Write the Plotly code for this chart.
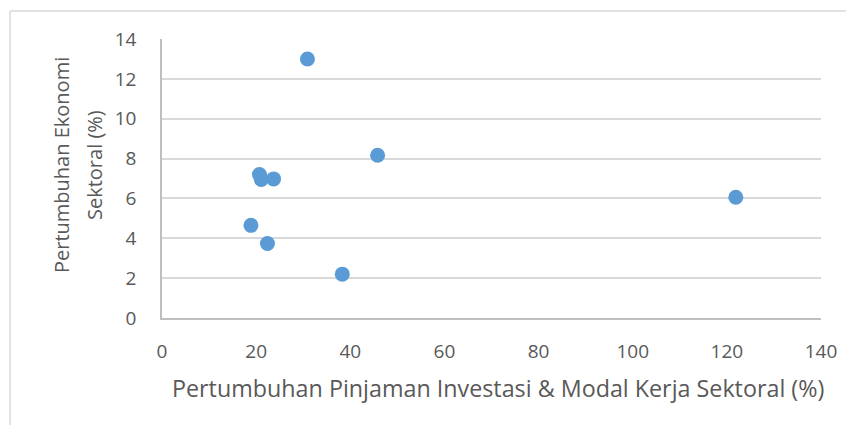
import plotly.graph_objects as go

x_vals = [30.9, 45.8, 20.7, 21.1, 23.7, 18.9, 22.4, 38.3, 121.9]
y_vals = [13.0, 8.17, 7.2, 6.95, 6.98, 4.65, 3.74, 2.2, 6.06]

x_title = "Pertumbuhan Pinjaman Investasi & Modal Kerja Sektoral (%)"
y_title_lines = ["Pertumbuhan Ekonomi", "Sektoral (%)"]

# page body has an 8px margin, so the figure is sized to fit the window
W, H = 846, 417
ml, mr, mt, mb = 154, 33, 31, 107
PW, PH = W - ml - mr, H - mt - mb

def px(xp):
    return (xp - ml) / PW

def py(yp):
    return (H - mb - yp) / PH

fig = go.Figure(go.Scatter(
    x=x_vals, y=y_vals, mode="markers",
    marker=dict(size=15, color="#5b9bd5", line=dict(width=0)),
    hoverinfo="x+y",
))

font = "Open Sans"
grey = "#595959"
fig.update_layout(
    width=W, height=H,
    margin=dict(l=ml, r=mr, t=mt, b=mb),
    paper_bgcolor="white", plot_bgcolor="white",
    showlegend=False,
    font=dict(family=font, color=grey),
    xaxis=dict(
        range=[0, 140], dtick=20, tick0=0,
        showgrid=False, zeroline=False,
        showline=True, linecolor="#bfbfbf", linewidth=1.5,
        ticks="", ticklabelstandoff=15,
        tickfont=dict(size=19, family=font, color=grey),
    ),
    yaxis=dict(
        range=[0, 14], dtick=2, tick0=0,
        showgrid=True, gridcolor="#d9d9d9", gridwidth=1.5,
        zeroline=False,
        showline=True, linecolor="#bfbfbf", linewidth=1.5,
        ticks="", ticklabelstandoff=20,
        tickfont=dict(size=19, family=font, color=grey),
    ),
)

fig.add_annotation(text=x_title, xref="paper", yref="paper",
                   x=px(490), y=py(380), xanchor="center", yanchor="middle",
                   showarrow=False, font=dict(size=23.3, family=font, color=grey))
for line, cx in zip(y_title_lines, [53, 86]):
    fig.add_annotation(text=line, xref="paper", yref="paper",
                       x=px(cx), y=py(157), xanchor="center", yanchor="middle",
                       textangle=-90, showarrow=False,
                       font=dict(size=20, family=font, color=grey))

# outer chart border (only top and left edges fall inside the picture)
border = dict(color="#d9d9d9", width=1.5)
fig.add_shape(type="line", xref="paper", yref="paper",
              x0=px(2), x1=px(W + 2), y0=py(3), y1=py(3), line=border, layer="below")
fig.add_shape(type="line", xref="paper", yref="paper",
              x0=px(2), x1=px(2), y0=py(3), y1=py(H + 2), line=border, layer="below")

fig.write_html("out.html")
